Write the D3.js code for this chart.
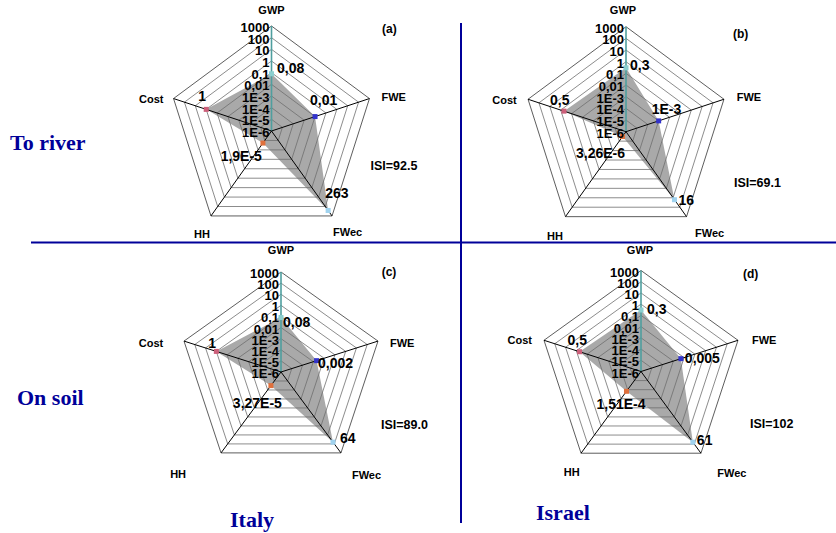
<!DOCTYPE html>
<html>
<head>
<meta charset="utf-8">
<script src="https://cdn.jsdelivr.net/npm/d3@7"></script>
<style>
  html, body { margin: 0; padding: 0; background: #fff; }
  svg { display: block; }
  text { font-family: Arial, "Liberation Sans", sans-serif; font-weight: bold; }
  .group { font-family: "Liberation Serif", "Times New Roman", serif; fill: #000099; font-size: 22px; }
</style>
</head>
<body>
<svg id="chart" width="836" height="533"></svg>
<script>
// Impact categories on the five radar axes (clockwise from the top)
const axisNames = ["GWP", "FWE", "FWec", "HH", "Cost"];
// Logarithmic rings, centre to rim
const tickValues = [1e-6, 1e-5, 1e-4, 1e-3, 0.01, 0.1, 1, 10, 100, 1000];
const tickLabels = ["1E-6", "1E-5", "1E-4", "1E-3", "0,01", "0,1", "1", "10", "100", "1000"];

// Scenarios: (a) Italy/river, (b) Israel/river, (c) Italy/soil, (d) Israel/soil
const panelTags = ["(a)", "(b)", "(c)", "(d)"];
const gwpValues  = [0.08, 0.3, 0.08, 0.3];
const fweValues  = [0.01, 0.001, 0.002, 0.005];
const fwecValues = [263, 16, 64, 61];
const hhValues   = [1.9e-5, 3.26e-6, 3.27e-5, 1.51e-4];
const costValues = [1, 0.5, 1, 0.5];
const gwpLabels  = ["0,08", "0,3", "0,08", "0,3"];
const fweLabels  = ["0,01", "1E-3", "0,002", "0,005"];
const fwecLabels = ["263", "16", "64", "61"];
const hhLabels   = ["1,9E-5", "3,26E-6", "3,27E-5", "1,51E-4"];
const costLabels = ["1", "0,5", "1", "0,5"];
const isiValues  = ["92.5", "69.1", "89.0", "102"];
const rowLabels = ["To river", "On soil"];
const columnLabels = ["Italy", "Israel"];

// Marker colour per axis
const markerColors = ["#8ccfcf", "#3333cc", "#9fd2ee", "#e0703c", "#cc5f7a"];

// Panel geometry and label placement
const layout = [
  { cx: 271.5, cy: 131, rx: 103, ry: 105,
    val: [[5.5, -1, "start"], [-5, -11.6, "start"], [-3, -12.5, "start"], [-1, 18.4, "end"], [-8, -8, "start"]],
    ax:  [[0, -12, "middle"], [12, 2.5, "start"], [1, 20, "start"], [-1, 22, "end"], [-10, 4.5, "end"]],
    tag: [110.5, -98.5], isi: [99, 39] },
  { cx: 626, cy: 131.7, rx: 103, ry: 105,
    val: [[4, 2, "start"], [-7, -7, "start"], [4, 5, "start"], [2.5, 21.5, "end"], [-14, -6, "start"]],
    ax:  [[-3, -12.5, "middle"], [12.7, 1.7, "start"], [8.5, 20.4, "start"], [-2.5, 23.4, "end"], [-11.3, 4.7, "end"]],
    tag: [107, -94], isi: [108, 55] },
  { cx: 281, cy: 372, rx: 102, ry: 100,
    val: [[2, 9, "start"], [1.5, 7.3, "start"], [7, 1, "start"], [11, 22.4, "end"], [-8, -3.4, "start"]],
    ax:  [[0, -18, "middle"], [12, 6.4, "start"], [11, 26, "start"], [-35, 25, "end"], [-20.7, 6.4, "end"]],
    tag: [100.7, -96], isi: [100, 57] },
  { cx: 641, cy: 371.5, rx: 102, ry: 101,
    val: [[6, 4, "start"], [4, 4.5, "start"], [4, 3, "start"], [-30, 18, "start"], [-12, -7, "start"]],
    ax:  [[-1, -16.5, "middle"], [14, 3.7, "start"], [16.4, 23.8, "start"], [-1.4, 22.8, "end"], [-12, 3.7, "end"]],
    tag: [102, -94], isi: [109, 56.5] }
];

const svg = d3.select("#chart");

// Radial position as a fraction of the rim, log scale from 1E-6 to 1000
const rScale = d3.scaleLog().domain([1e-6, 1000]).range([0, 1]);
const angle = i => i * 2 * Math.PI / axisNames.length;

function drawRadar(p, L) {
  const g = svg.append("g");
  const pt = (i, v) => {
    const t = rScale(v);
    return [L.cx + L.rx * t * Math.sin(angle(i)), L.cy - L.ry * t * Math.cos(angle(i))];
  };
  const values = [gwpValues[p], fweValues[p], fwecValues[p], hhValues[p], costValues[p]];
  const labels = [gwpLabels[p], fweLabels[p], fwecLabels[p], hhLabels[p], costLabels[p]];
  const closed = d3.line().curve(d3.curveLinearClosed);

  // shaded profile
  g.append("path")
    .attr("d", closed(values.map((v, i) => pt(i, v))))
    .attr("fill", "#a9a9a9");

  // rings
  tickValues.slice(1).forEach((tv, k) => {
    g.append("path")
      .attr("d", closed(axisNames.map((_, i) => pt(i, tv))))
      .attr("fill", "none")
      .attr("stroke", k === tickValues.length - 2 ? "#333" : "#6f6f6f")
      .attr("stroke-width", 0.8);
  });

  // spokes
  axisNames.forEach((_, i) => {
    const [x0, y0] = pt(i, 1e-6);
    const [x1, y1] = pt(i, 1000);
    g.append("line")
      .attr("x1", x0).attr("y1", y0).attr("x2", x1).attr("y2", y1)
      .attr("stroke", i === 0 ? "#4f9f9f" : "#000")
      .attr("stroke-width", i === 0 ? 1.6 : 1);
  });

  // markers
  values.forEach((v, i) => {
    const [x, y] = pt(i, v);
    g.append("rect")
      .attr("x", x - 2.5).attr("y", y - 2.5).attr("width", 5).attr("height", 5)
      .attr("fill", markerColors[i]);
  });

  // tick labels along the GWP spoke
  tickValues.forEach((tv, k) => {
    const [x, y] = pt(0, tv);
    g.append("text")
      .attr("x", L.cx - 2).attr("y", y + 6)
      .attr("text-anchor", "end")
      .attr("font-size", 13)
      .text(tickLabels[k]);
  });

  // value labels
  values.forEach((v, i) => {
    const [x, y] = pt(i, v);
    const o = L.val[i];
    g.append("text")
      .attr("x", x + o[0]).attr("y", y + o[1])
      .attr("text-anchor", o[2])
      .attr("font-size", 14)
      .text(labels[i]);
  });

  // axis names at the rim
  axisNames.forEach((name, i) => {
    const [x, y] = pt(i, 1000);
    const o = L.ax[i];
    g.append("text")
      .attr("x", x + o[0]).attr("y", y + o[1])
      .attr("text-anchor", o[2])
      .attr("font-size", 11)
      .text(name);
  });

  g.append("text")
    .attr("x", L.cx + L.tag[0]).attr("y", L.cy + L.tag[1])
    .attr("font-size", 12)
    .text(panelTags[p]);

  g.append("text")
    .attr("x", L.cx + L.isi[0]).attr("y", L.cy + L.isi[1])
    .attr("font-size", 12.5)
    .text("ISI=" + isiValues[p]);
}

layout.forEach((L, p) => drawRadar(p, L));

// quadrant separators
svg.append("line").attr("x1", 31).attr("y1", 242.5).attr("x2", 836).attr("y2", 242.5)
  .attr("stroke", "#000099").attr("stroke-width", 2);
svg.append("line").attr("x1", 461).attr("y1", 23).attr("x2", 461).attr("y2", 523)
  .attr("stroke", "#000099").attr("stroke-width", 2);

// row and column headings
svg.append("text").attr("class", "group").attr("x", 10).attr("y", 150).text(rowLabels[0]);
svg.append("text").attr("class", "group").attr("x", 17).attr("y", 405).text(rowLabels[1]);
svg.append("text").attr("class", "group").attr("x", 230).attr("y", 527).text(columnLabels[0]);
svg.append("text").attr("class", "group").attr("x", 536).attr("y", 520).text(columnLabels[1]);
</script>
</body>
</html>
